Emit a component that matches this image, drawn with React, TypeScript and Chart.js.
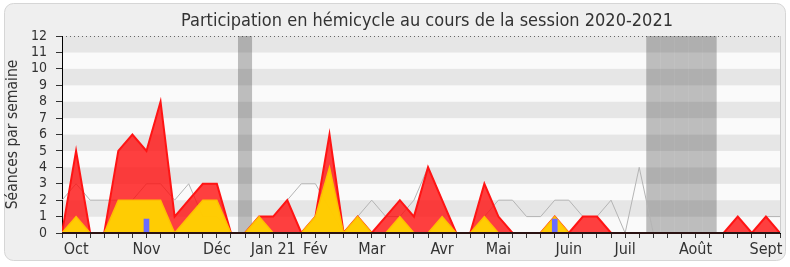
import { useEffect, useRef } from 'react';
import { Chart, registerables } from 'chart.js';

Chart.register(...registerables);

// ---- data (one value per week of the session, 52 weeks) ----
const weekCount = 52;
const monthTickWeeks = [1, 6, 11, 15, 18, 22, 27, 31, 36, 40, 45, 50];
const monthNames = ['Oct', 'Nov', 'Déc', 'Jan 21', 'Fév', 'Mar', 'Avr', 'Mai', 'Juin', 'Juil', 'Août', 'Sept'];

// total presence (red)
const presenceTotal = [
  0, 5, 0, 0, 5, 6, 5, 8, 1, 2, 3, 3, 0, 0, 1, 1, 2, 0, 1, 6, 0, 1, 0, 1, 2, 1,
  4, 2, 0, 0, 3, 1, 0, 0, 0, 1, 0, 1, 1, 0, 0, 0, 0, 0, 0, 0, 0, 0, 1, 0, 1, 0,
];
// presence with intervention (yellow)
const presenceActive = [
  0, 1, 0, 0, 2, 2, 2, 2, 0, 1, 2, 2, 0, 0, 1, 0, 0, 0, 1, 4, 0, 1, 0, 0, 1, 0,
  0, 1, 0, 0, 1, 0, 0, 0, 0, 1, 0, 0, 0, 0, 0, 0, 0, 0, 0, 0, 0, 0, 0, 0, 0, 0,
];
// median of all deputies (grey line)
const medianLine = [
  2, 3, 2, 2, 2, 2, 3, 3, 2, 3, 1, 1, 0, 0, 1, 1, 2, 3, 3, 1.5, 0, 1, 2, 1, 1, 2,
  4, 2, 0, 0, 1, 2, 2, 1, 1, 2, 2, 1, 1, 2, 0, 4, 0, 0, 0, 0, 0, 0, 0, 0, 1, 1,
];
// questions (blue bars)
const questions = [
  0, 0, 0, 0, 0, 0, 0.85, 0, 0, 0, 0, 0, 0, 0, 0, 0, 0, 0, 0, 0, 0, 0, 0, 0, 0, 0,
  0, 0, 0, 0, 0, 0, 0, 0, 0, 0.85, 0, 0, 0, 0, 0, 0, 0, 0, 0, 0, 0, 0, 0, 0, 0, 0,
];
// holiday weeks (grey bands)
const holidayWeeks = [13, 42, 43, 44, 45, 46];

const FONT = "'DejaVu Sans Condensed', 'DejaVu Sans', sans-serif";

const decorPlugin = {
  id: 'decor',
  beforeDraw(chart: any) {
    const { ctx, chartArea, scales } = chart;
    const y = scales.y;
    ctx.save();
    ctx.fillStyle = '#ffffff';
    ctx.fillRect(0, 0, chart.width, chart.height);
    // panel
    ctx.beginPath();
    (ctx as any).roundRect(4.5, 3.5, 781, 257, 9);
    ctx.fillStyle = '#efefef';
    ctx.fill();
    ctx.strokeStyle = '#d6d6d6';
    ctx.lineWidth = 1;
    ctx.stroke();
    // stripes
    for (let k = 0; k < 12; k++) {
      const top = y.getPixelForValue(k + 1);
      const bot = y.getPixelForValue(k);
      ctx.fillStyle = k % 2 === 1 ? '#e6e6e6' : '#fafafa';
      ctx.fillRect(chartArea.left, top, chartArea.right - chartArea.left, bot - top);
    }
    // top dotted line
    ctx.setLineDash([1, 3]);
    ctx.strokeStyle = '#666';
    ctx.beginPath();
    ctx.moveTo(chartArea.left, chartArea.top + 0.5);
    ctx.lineTo(chartArea.right, chartArea.top + 0.5);
    ctx.stroke();
    ctx.setLineDash([]);
    // right border
    ctx.strokeStyle = '#cccccc';
    ctx.beginPath();
    ctx.moveTo(chartArea.right + 0.5, chartArea.top);
    ctx.lineTo(chartArea.right + 0.5, chartArea.bottom);
    ctx.stroke();
    ctx.restore();
  },
  beforeDatasetsDraw(chart: any) {
    const { ctx, chartArea, scales } = chart;
    const x = scales.x;
    ctx.save();
    ctx.fillStyle = 'rgba(50,50,50,0.3)';
    for (const w of holidayWeeks) {
      const l = x.getPixelForValue(w - 0.5);
      const r = x.getPixelForValue(w + 0.5);
      ctx.fillRect(l, chartArea.top, r - l, chartArea.bottom - chartArea.top);
    }
    ctx.restore();
  },
  afterDatasetsDraw(chart: any) {
    const { ctx, chartArea } = chart;
    ctx.save();
    ctx.strokeStyle = '#2a1212';
    ctx.lineWidth = 2;
    ctx.beginPath();
    ctx.moveTo(chartArea.left, Math.round(chartArea.bottom));
    ctx.lineTo(chartArea.right, Math.round(chartArea.bottom));
    ctx.stroke();
    ctx.restore();
  },
  afterDraw(chart: any) {
    const { ctx, chartArea } = chart;
    ctx.save();
    ctx.fillStyle = '#333333';
    ctx.font = `18px ${FONT}`;
    ctx.textAlign = 'center';
    ctx.textBaseline = 'alphabetic';
    ctx.fillText('Participation en hémicycle au cours de la session 2020-2021', 427, 26);
    ctx.translate(13, (chartArea.top + chartArea.bottom) / 2);
    ctx.rotate(-Math.PI / 2);
    ctx.font = `15.5px ${FONT}`;
    ctx.textBaseline = 'middle';
    ctx.fillText('Séances par semaine', 0, 0);
    ctx.restore();
  },
};

export default function App() {
  const ref = useRef<HTMLCanvasElement>(null);
  useEffect(() => {
    document.body.style.margin = '0';
    const canvas = ref.current!;
    const pts = (arr: number[]) => arr.map((v, i) => ({ x: i, y: v }));
    const chart = new Chart(canvas, {
      type: 'line',
      data: {
        datasets: [
          {
            type: 'bar',
            data: pts(questions).filter((p) => p.y > 0),
            backgroundColor: '#6b6bff',
            barThickness: 5,
            order: 1,
          } as any,
          {
            data: pts(presenceActive),
            fill: 'origin',
            backgroundColor: 'rgba(255,212,0,0.95)',
            borderColor: '#ffbf00',
            borderWidth: 1.5,
            order: 2,
            clip: 0,
          },
          {
            data: pts(presenceTotal),
            fill: 'origin',
            backgroundColor: 'rgba(255,10,10,0.78)',
            borderColor: '#ff1414',
            borderWidth: 2,
            order: 3,
            clip: 0,
          },
          {
            data: pts(medianLine),
            fill: false,
            borderColor: '#b4b4b4',
            borderWidth: 1,
            order: 4,
            clip: 0,
          },
        ],
      },
      options: {
        animation: false,
        responsive: false,
        layout: { padding: { left: 0, right: 10, top: 36, bottom: 0 } },
        elements: { point: { radius: 0 }, line: { tension: 0 } },
        plugins: { legend: { display: false }, tooltip: { enabled: false }, title: { display: false } },
        scales: {
          x: {
            type: 'linear',
            min: 0,
            max: weekCount - 1,
            offset: false,
            afterFit: (s: any) => {
              s.height = 34;
            },
            border: { display: true, color: '#000', width: 1 },
            grid: { drawOnChartArea: false, drawTicks: true, tickLength: 5, color: '#333', offset: false },
            ticks: {
              stepSize: 1,
              maxTicksLimit: 200,
              autoSkip: false,
              maxRotation: 0,
              minRotation: 0,
              padding: 2,
              color: '#333',
              font: { family: FONT, size: 16 },
              callback: (v: any) => {
                const k = monthTickWeeks.indexOf(Number(v));
                return k >= 0 ? monthNames[k] : '';
              },
            },
          },
          y: {
            min: 0,
            max: 12,
            afterFit: (s: any) => {
              s.width = 62;
            },
            border: { display: true, color: '#000', width: 1 },
            grid: { drawOnChartArea: false, drawTicks: true, tickLength: 6, color: '#333' },
            ticks: {
              stepSize: 1,
              autoSkip: false,
              padding: 9,
              color: '#333',
              font: { family: FONT, size: 14 },
            },
          },
        },
      } as any,
      plugins: [decorPlugin],
    });
    return () => chart.destroy();
  }, []);
  return <canvas ref={ref} width={790} height={267} style={{ display: 'block' }} />;
}
